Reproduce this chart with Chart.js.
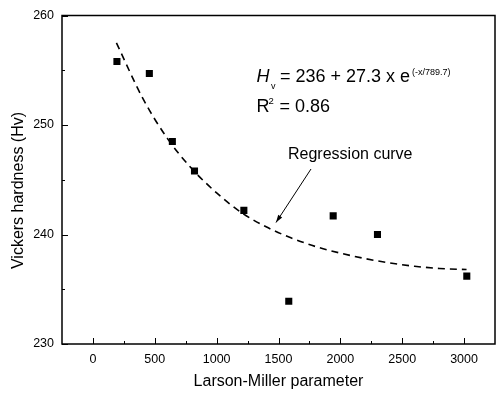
<!DOCTYPE html>
<html>
<head>
<meta charset="utf-8">
<script src="https://cdn.jsdelivr.net/npm/chart.js@4/dist/chart.umd.min.js"></script>
<style>
  html, body { margin: 0; padding: 0; background: #fff; overflow: hidden; }
</style>
</head>
<body>
<canvas id="grafico" width="500" height="393"></canvas>
<script>
// measured points
const lmp = [194, 456, 642, 821, 1220, 1583, 1942, 2300, 3022];
const hardness = [255.8, 254.7, 248.5, 245.8, 242.2, 233.9, 241.7, 240.0, 236.2];

// regression curve
const curveX = [190, 400, 600, 800, 1000, 1200, 1400, 1600, 1800, 2000, 2200, 2400, 2600, 2800, 3020];
const curveY = [257.5, 252.5, 248.8, 246.0, 243.8, 242.0, 240.7, 239.7, 238.9, 238.3, 237.8, 237.4, 237.1, 236.9, 236.8];

const xTicks = [0, 500, 1000, 1500, 2000, 2500, 3000];
const xMinor = [250, 750, 1250, 1750, 2250, 2750];
const yTicks = [230, 240, 250, 260];
const yMinor = [235, 245, 255];

const FONT = "'Liberation Sans', Arial, sans-serif";

// frame, inward ticks and the annotations
const extras = {
  id: "extras",
  afterDraw(chart) {
    const ctx = chart.ctx;
    const a = chart.chartArea;
    const sx = chart.scales.x;
    const sy = chart.scales.y;
    ctx.save();
    ctx.strokeStyle = "#000";
    ctx.fillStyle = "#000";
    ctx.lineWidth = 1.5;
    ctx.strokeRect(a.left, a.top, a.right - a.left, a.bottom - a.top);

    ctx.lineWidth = 1;
    ctx.beginPath();
    xTicks.forEach(v => {
      const px = Math.round(sx.getPixelForValue(v)) + 0.5;
      ctx.moveTo(px, a.bottom); ctx.lineTo(px, a.bottom - 6);
    });
    xMinor.forEach(v => {
      const px = Math.round(sx.getPixelForValue(v)) + 0.5;
      ctx.moveTo(px, a.bottom); ctx.lineTo(px, a.bottom - 3);
    });
    yTicks.forEach(v => {
      const py = Math.round(sy.getPixelForValue(v)) + 0.5;
      ctx.moveTo(a.left, py); ctx.lineTo(a.left + 6, py);
    });
    yMinor.forEach(v => {
      const py = Math.round(sy.getPixelForValue(v)) + 0.5;
      ctx.moveTo(a.left, py); ctx.lineTo(a.left + 3, py);
    });
    ctx.stroke();

    // y axis title
    ctx.save();
    ctx.translate(18.5, 190.5);
    ctx.rotate(-Math.PI / 2);
    ctx.font = "16px " + FONT;
    ctx.textAlign = "center";
    ctx.textBaseline = "middle";
    ctx.fillText("Vickers hardness (Hv)", 0, 0);
    ctx.restore();

    // equation
    ctx.textAlign = "left";
    ctx.textBaseline = "alphabetic";
    ctx.font = "italic 18px " + FONT;
    ctx.fillText("H", 256.5, 82);
    ctx.font = "9px " + FONT;
    ctx.fillText("v", 271, 89);
    ctx.font = "18px " + FONT;
    const eq = "= 236 + 27.3 x e";
    ctx.fillText(eq, 280, 82);
    const eqEnd = 280 + ctx.measureText(eq).width;
    ctx.font = "9px " + FONT;
    ctx.fillText("(-x/789.7)", eqEnd + 2, 75);

    ctx.font = "18px " + FONT;
    ctx.fillText("R", 256.5, 112);
    ctx.font = "9.5px " + FONT;
    ctx.fillText("2", 268.5, 104);
    ctx.font = "18px " + FONT;
    ctx.fillText("= 0.86", 279.5, 112);

    // label + arrow
    ctx.font = "16px " + FONT;
    ctx.fillText("Regression curve", 288, 159);
    const x1 = 311, y1 = 169, x2 = 276, y2 = 222.5;
    ctx.beginPath();
    ctx.moveTo(x1, y1); ctx.lineTo(x2, y2);
    ctx.stroke();
    const ang = Math.atan2(y2 - y1, x2 - x1);
    ctx.beginPath();
    ctx.moveTo(x2, y2);
    ctx.lineTo(x2 - 8 * Math.cos(ang - 0.3), y2 - 8 * Math.sin(ang - 0.3));
    ctx.lineTo(x2 - 8 * Math.cos(ang + 0.3), y2 - 8 * Math.sin(ang + 0.3));
    ctx.closePath();
    ctx.fill();
    ctx.restore();
  }
};

new Chart(document.getElementById("grafico"), {
  type: "scatter",
  data: {
    datasets: [
      {
        label: "Regression",
        type: "line",
        data: curveX.map((x, i) => ({ x: x, y: curveY[i] })),
        borderColor: "#000",
        borderWidth: 1.6,
        borderDash: [7, 5],
        pointRadius: 0,
        fill: false,
        cubicInterpolationMode: "monotone"
      },
      {
        label: "Hv",
        data: lmp.map((x, i) => ({ x: x, y: hardness[i] })),
        pointStyle: "rect",
        pointRadius: 5,
        borderWidth: 0,
        backgroundColor: "#000",
        borderColor: "#000"
      }
    ]
  },
  options: {
    responsive: false,
    animation: false,
    devicePixelRatio: 1,
    layout: { padding: { top: 15, left: 0, right: 0, bottom: 0 } },
    plugins: { legend: { display: false }, tooltip: { enabled: false } },
    scales: {
      x: {
        type: "linear",
        min: -250,
        max: 3250,
        grid: { display: false, drawTicks: false },
        border: { display: false },
        afterBuildTicks: s => { s.ticks = xTicks.map(v => ({ value: v })); },
        afterFit: s => { s.height = 49; },
        ticks: {
          color: "#000", padding: 8, maxRotation: 0,
          font: { family: FONT, size: 12.5 },
          callback: v => String(v)
        },
        title: {
          display: true,
          text: "Larson-Miller parameter",
          color: "#000",
          font: { family: FONT, size: 16 },
          padding: { top: 0, bottom: 1.5 }
        }
      },
      y: {
        min: 230,
        max: 260,
        grid: { display: false, drawTicks: false },
        border: { display: false },
        afterBuildTicks: s => { s.ticks = yTicks.map(v => ({ value: v })); },
        afterFit: s => { s.width = 62; },
        ticks: {
          color: "#000", padding: 8,
          font: { family: FONT, size: 12.5 },
          callback: v => String(v)
        }
      }
    }
  },
  plugins: [extras]
});
</script>
</body>
</html>
